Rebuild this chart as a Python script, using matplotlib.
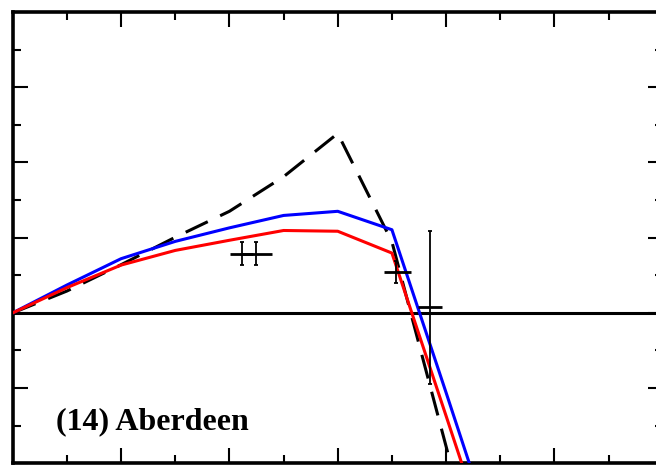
import numpy as np
import matplotlib
matplotlib.use('Agg')
import matplotlib.pyplot as plt
from matplotlib.ticker import MultipleLocator

# Model curves (x in minor-tick units)
x_model = [0, 1, 2, 3, 4, 5, 6, 7, 8, 9]
y_dashed = [0.0, 0.58, 1.28, 2.01, 2.70, 3.62, 4.77, 1.89, -3.55, -9.0]
y_blue = [0.0, 0.74, 1.44, 1.90, 2.26, 2.59, 2.70, 2.21, -2.12, -6.5]
y_red = [0.0, 0.67, 1.27, 1.66, 1.93, 2.19, 2.17, 1.59, -2.74, -7.1]

# Observed points with error bars
obs_x = [4.23, 4.49, 7.08, 7.71]
obs_y = [1.57, 1.57, 1.09, 0.15]
obs_yerr = [0.31, 0.31, 0.30, 2.03]
obs_xerr_lo = [0.21, 0.30, 0.22, 0.22]
obs_xerr_hi = [0.21, 0.30, 0.28, 0.22]

label = '(14) Aberdeen'

fig = plt.figure(figsize=(6.56, 4.66), dpi=100)
ax = fig.add_axes([0.0194, 0.0058, 0.9909, 0.9685])

# Zero line
ax.axhline(0, color='black', lw=2.2, zorder=1)

# Model lines
ax.plot(x_model, y_dashed, color='black', lw=2.2, dashes=(8, 4.5), zorder=2)
ax.plot(x_model, y_blue, color='#0000ff', lw=2.2, zorder=3)
ax.plot(x_model, y_red, color='#ff0000', lw=2.2, zorder=4)

# Data points
ax.errorbar(obs_x, obs_y, yerr=obs_yerr, fmt='none', ecolor='black',
            elinewidth=1.3, capsize=1.6, capthick=1.3, zorder=5)
ax.errorbar(obs_x, obs_y, xerr=[obs_xerr_lo, obs_xerr_hi], fmt='none',
            ecolor='black', elinewidth=2.0, capsize=0, zorder=5)

ax.text(0.067, 0.075, label, transform=ax.transAxes, ha='left',
        va='baseline', fontsize=23, fontweight='bold',
        family='Liberation Serif')

# Axes limits and ticks
ax.set_xlim(0, 12)
ax.set_ylim(-4, 8)
ax.xaxis.set_major_locator(MultipleLocator(2))
ax.xaxis.set_minor_locator(MultipleLocator(1))
ax.yaxis.set_major_locator(MultipleLocator(2))
ax.yaxis.set_minor_locator(MultipleLocator(1))
ax.tick_params(which='both', direction='in', top=True, right=True,
               labelbottom=False, labelleft=False, width=1.5)
ax.tick_params(which='major', length=11)
ax.tick_params(which='minor', length=5.5)
for sp in ax.spines.values():
    sp.set_linewidth(2.6)

plt.savefig('out.png', dpi=100)
plt.close()
